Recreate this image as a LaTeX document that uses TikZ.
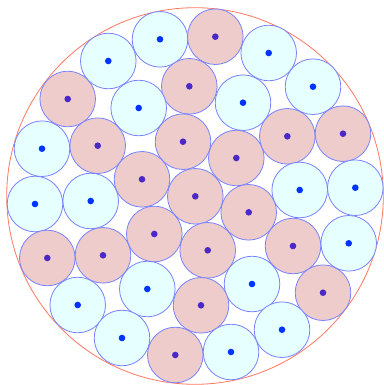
\documentclass[tikz,border=0pt]{standalone}
\definecolor{cfill}{RGB}{230,255,255}
\definecolor{pfill}{RGB}{237,204,203}
\definecolor{ring}{RGB}{120,130,255}
\definecolor{cdot}{RGB}{0,51,255}
\definecolor{pdot}{RGB}{75,40,200}
\definecolor{outer}{RGB}{255,120,95}
\tikzset{
  disc/.style={circle, draw=ring, line width=0.8pt, minimum size=55.6pt, inner sep=0pt},
  cdisc/.style={disc, fill=cfill},
  pdisc/.style={disc, fill=pfill},
}
\begin{document}
\begin{tikzpicture}[x=1pt,y=-1pt]
\useasboundingbox (0,0) rectangle (383,385);
\draw[outer, line width=0.8pt] (195,196) circle (188.3);
\foreach \x/\y/\t [count=\i] in {
160/39.3/c, 215.3/36.7/p, 108.3/61/c, 268.7/53/c, 67.7/99/p, 189.3/86.3/p,
138.7/108/c, 243/102.7/c, 313/86.7/c, 42/148.7/c, 97.7/145.7/p, 183/141.7/p,
236.3/158/p, 287.3/136.3/p, 343/133.7/p, 35/204/c, 90.7/201/c, 142/179.3/p,
195.3/196.3/p, 248.7/212.3/p, 299.7/190/c, 355.3/187.7/c, 47.3/258/p, 103/255.3/p,
154.3/234/p, 207.7/250.3/p, 293/246/p, 348.7/243.3/c, 77.7/305/c, 147.3/289/c,
252/284/c, 201/305.3/p, 323/292.7/p, 122/338/c, 282/329.7/c, 175.3/355/p, 231/352/c}
{
  \node[\t disc] (d\i) at (\x,\y) {};
  \fill[\t dot] (d\i.center) circle (3.3);
}
\end{tikzpicture}
\end{document}
